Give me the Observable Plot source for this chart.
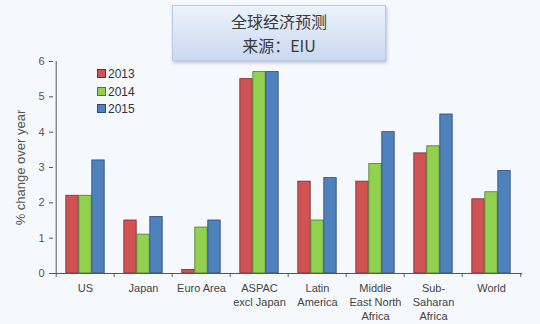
<!DOCTYPE html>
<html><head><meta charset="utf-8">
<script src="https://cdn.jsdelivr.net/npm/d3@7"></script>
<script src="https://cdn.jsdelivr.net/npm/@observablehq/plot@0.6"></script>
<style>
html,body{margin:0;padding:0;background:#f5f8fd;}
#wrap{position:relative;width:540px;height:324px;overflow:hidden;font-family:Arial,"Liberation Sans",sans-serif;}
#title{position:absolute;left:172px;top:5px;width:214px;height:56px;background:linear-gradient(#edf2fb,#c9d9f0);border:1px solid #b8cae4;box-shadow:1px 2px 3px rgba(80,100,140,0.35);text-align:center;font-family:"Noto Sans CJK SC",sans-serif;font-size:16px;line-height:24px;color:#3a3a3a;padding-top:3px;box-sizing:border-box;}
#legend{position:absolute;left:97px;top:66px;font-size:12px;color:#333;line-height:17.5px;}
#legend span.sw{display:inline-block;width:7px;height:7px;margin-right:2px;border:1px solid #444;vertical-align:0px;}
</style></head>
<body><div id="wrap"><div id="chart"></div>
<div id="title">全球经济预测<br>来源：EIU</div>
<div id="legend"></div></div>
<script>
const categories = ["US","Japan","Euro Area","ASPAC\nexcl Japan","Latin\nAmerica","Middle\nEast North\nAfrica","Sub-\nSaharan\nAfrica","World"];
const years = ["2013","2014","2015"];
const v2013 = [2.2,1.5,0.1,5.5,2.6,2.6,3.4,2.1];
const v2014 = [2.2,1.1,1.3,5.7,1.5,3.1,3.6,2.3];
const v2015 = [3.2,1.6,1.5,5.7,2.7,4.0,4.5,2.9];
const colors = ["#d05252","#92d050","#4f81bd"];
const strokes = ["#7a2c2c","#4f7a28","#2c4a70"];
const yTicks = [0,1,2,3,4,5,6];
const yLabel = "% change over year";

const series = [v2013,v2014,v2015];
const W = 540, H = 324, mL = 53, mR = 18, mT = 61, mB = 51;
const step = (W - mL - mR) / categories.length;
const barW = 13;
const inset = (step - barW) / 2;

const marks = [];
series.forEach((vals, i) => {
  const data = categories.map((c, j) => ({cat: c, value: vals[j]}));
  marks.push(Plot.barY(data, {x: "cat", y: "value", dx: (i - 1) * barW, insetLeft: inset, insetRight: inset,
    fill: colors[i], stroke: strokes[i], strokeWidth: 0.8}));
});
marks.push(Plot.ruleY([0], {stroke: "#4a5a6e", strokeWidth: 1}));
marks.push(Plot.ruleX([categories[0]], {dx: -step/2, y1: 0, y2: 6, stroke: "#4a5a6e", strokeWidth: 1}));
marks.push(Plot.ruleX(categories, {x: d => d, dx: -step/2, y1: 0, y2: -0.11, stroke: "#4a5a6e"}));
marks.push(Plot.ruleX([categories[categories.length-1]], {dx: step/2, y1: 0, y2: -0.11, stroke: "#4a5a6e"}));
marks.push(Plot.text(categories, {x: d => d, y: 0, dy: 9, text: d => d, lineAnchor: "top", lineHeight: 1.25, fontSize: 11, fill: "#444"}));
marks.push(Plot.text([yLabel], {frameAnchor: "left", dx: -33, rotate: -90, textAnchor: "middle", text: d => d, fontSize: 13, fill: "#555"}));

const chart = Plot.plot({
  width: W, height: H,
  marginLeft: mL, marginRight: mR, marginTop: mT, marginBottom: mB,
  style: {background: "transparent", fontFamily: "Arial, 'Liberation Sans', sans-serif", color: "#444"},
  x: {domain: categories, padding: 0, axis: null},
  y: {domain: [0, 6]},
  marks: [
    Plot.axisY({ticks: yTicks, tickFormat: d => String(d), tickSize: 4, tickPadding: 5, fontSize: 11, stroke: "#4a5a6e", fill: "#555", label: null}),
    ...marks
  ]
});
document.getElementById("chart").appendChild(chart);

const lg = document.getElementById("legend");
years.forEach((y, i) => {
  const d = document.createElement("div");
  d.innerHTML = `<span class="sw" style="background:${colors[i]};border-color:${strokes[i]}"></span>${y}`;
  lg.appendChild(d);
});
</script></body></html>
